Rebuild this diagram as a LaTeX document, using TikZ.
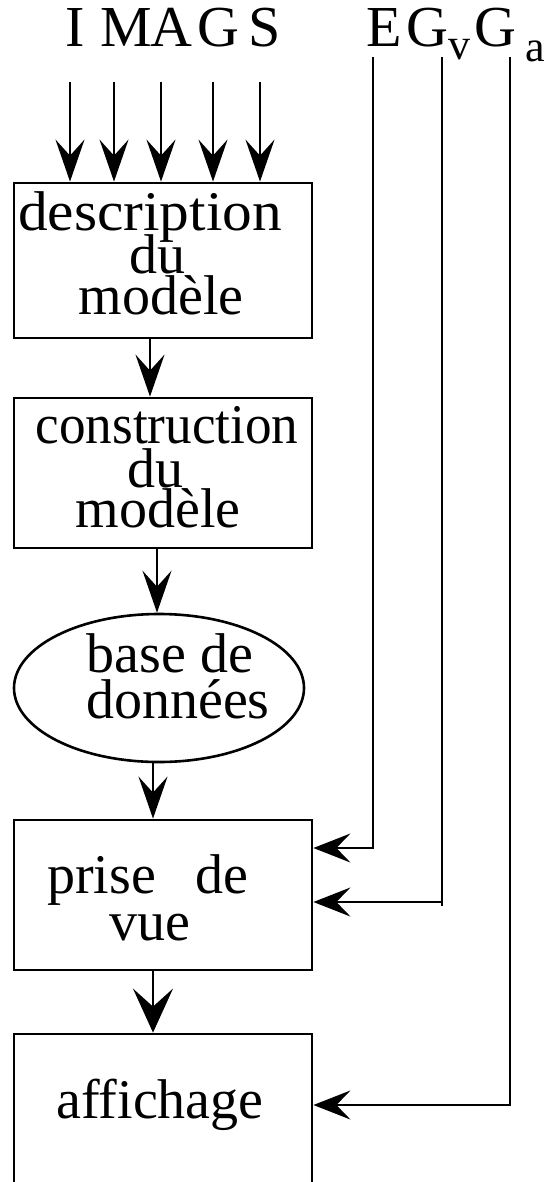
\documentclass[tikz,border=0pt]{standalone}
\usepackage{fontspec}
\setmainfont{Liberation Serif}
\usetikzlibrary{arrows.meta,shapes.geometric}
\begin{document}
\begin{tikzpicture}[x=1pt,y=-1pt,
  box/.style={draw,line width=2.8pt,rectangle,minimum width=298pt,inner sep=0pt},
  oval/.style={draw,ellipse,line width=2.6pt,inner sep=0pt},
  txt/.style={anchor=base,inner sep=0pt,font=\fontsize{56}{56}\selectfont},
  lbl/.style={anchor=base,inner sep=0pt,font=\fontsize{58}{58}\selectfont},
  conn/.style={line width=2.3pt},
  arr/.style={conn,-{Stealth[length=42pt,width=29pt,inset=16pt]}},
  bigarr/.style={conn,-{Stealth[length=44pt,width=40pt,inset=18pt]}},
  harr/.style={conn,-{Stealth[length=37pt,width=29pt,inset=14pt]}}
]
\useasboundingbox (0,0) rectangle (551,1182);
\clip (0,0) rectangle (551,1182);

% boxes
\node[box,minimum height=155pt] (desc) at (163,260.5) {};
\node[box,minimum height=150pt] (constr) at (163,473) {};
\node[oval,minimum width=290pt,minimum height=148pt] (bd) at (159,688) {};
\node[box,minimum height=150pt] (prise) at (163,895) {};
\node[box,minimum height=160pt] (aff) at (163,1114) {};

% texts
\node[txt] (desc1) at (150,231) {\scalebox{1.06}[1]{description}};
\node[txt] (desc2) at (157,273) {du};
\node[txt] (desc3) at (161,314) {modèle};
\node[txt] (constr1) at (167,443) {\scalebox{0.95}[1]{construction}};
\node[txt] (constr2) at (155,487) {du};
\node[txt] (constr3) at (158,527) {modèle};
\node[txt] (bd1) at (170,672) {base de};
\node[txt] (bd2) at (178,718) {données};
\node[txt] (prise1) at (148,893) {prise\hspace{40pt}de};
\node[txt] (prise2) at (150,940) {vue};
\node[txt] (aff1) at (160,1118) {affichage};

% top labels
\node[lbl] (imags) at (173,47) {I\hspace{16pt}M\hspace{-1pt}A\hspace{5pt}G\hspace{9pt}S};
\node[lbl] (lE) at (384,47) {E};
\node[lbl,anchor=base west] (lGv) at (406,47) {G\raisebox{-13pt}{\fontsize{44}{44}\selectfont v}};
\node[lbl,anchor=base west] (lGa) at (474,47) {G\hspace{9pt}\raisebox{-15pt}{\fontsize{44}{44}\selectfont a}};

% input arrows
\foreach \n/\x in {tI/70,tM/114,tA/161,tG/213,tS/260}{
  \coordinate (\n) at (\x,82);
  \draw[arr] (\n) -- (\n |- desc.north);
}

% chain
\draw[arr] ([xshift=-13pt]desc.south) -- ([xshift=-13pt]constr.north);
\draw[arr] ([xshift=-6pt]constr.south) -- ([xshift=-6pt]constr.south |- bd.north);
\draw[arr] ([xshift=-6pt]bd.south) -- ([xshift=-6pt]bd.south |- prise.north);
\draw[bigarr] ([xshift=-10pt]prise.south) -- ([xshift=-10pt]aff.north);

% side inputs
\coordinate (eTop) at (373,57);
\coordinate (gvTop) at (442,57);
\coordinate (gvBot) at (442,906);
\coordinate (gaTop) at (510,57);
\draw[harr] (eTop) |- ([yshift=47pt]prise.east);
\draw[conn] (gvTop) -- (gvBot);
\draw[harr] ([yshift=-7pt]prise.east -| gvBot) -- ([yshift=-7pt]prise.east);
\draw[harr] (gaTop) |- ([yshift=9pt]aff.east);
\end{tikzpicture}
\end{document}
